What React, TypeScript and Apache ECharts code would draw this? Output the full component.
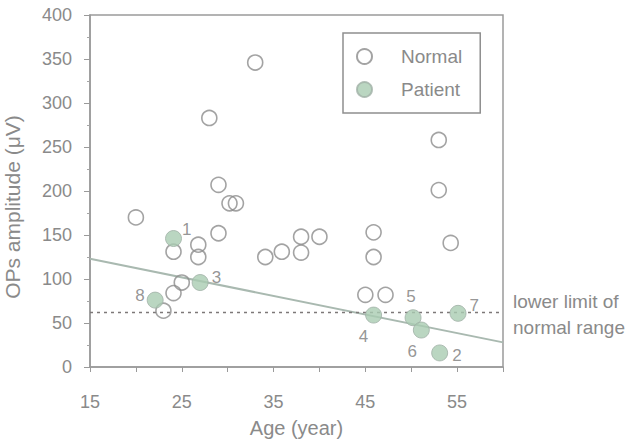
import React, { useEffect, useRef } from "react";
import * as echarts from "echarts";

// Normal subjects: [age (year), OPs amplitude (μV)]
const normalAge = [20, 33, 28, 29, 30.2, 30.9, 29, 24.1, 26.8, 26.8, 25, 24.1, 23, 34.1, 35.9, 38, 38, 40, 45.9, 45.9, 45, 47.2, 54.3, 53, 53];
const normalAmp = [170, 346, 283, 207, 186, 186, 152, 131, 139, 125, 96, 84, 64, 125, 131, 148, 130, 148, 153, 125, 82, 82, 141, 258, 201];

// Patients, numbered 1–8
const patientId = ["1", "2", "3", "4", "5", "6", "7", "8"];
const patientAge = [24.1, 53.1, 27, 45.9, 50.2, 51.1, 55.1, 22.1];
const patientAmp = [146, 16, 96, 59, 56, 42, 61, 76];

// Regression line end points and the lower limit of the normal range
const fitAge = [15, 60];
const fitAmp = [123, 28];
const lowerLimit = 62;

const xTickLabels = [15, 25, 35, 45, 55];

const GREY = "#8a8a8a";
const FONT = "'Liberation Sans', Arial, sans-serif";

// label placement per patient number
const labelPlace: Record<string, any> = {
  "1": { position: "right", offset: [-4, -9] },
  "2": { position: "right", offset: [0, 3] },
  "3": { position: "right", offset: [-1, -5] },
  "4": { position: "bottom", offset: [-10, 0] },
  "5": { position: "top", offset: [-2, 0] },
  "6": { position: "bottom", offset: [-9, 0] },
  "7": { position: "right", offset: [-1, -8] },
  "8": { position: "left", offset: [2, -5] },
};

export default function App() {
  const ref = useRef<HTMLDivElement>(null);

  useEffect(() => {
    if (!ref.current) return;
    const chart = echarts.init(ref.current, null, { renderer: "svg" });

    const normalData = normalAge.map((a, i) => [a, normalAmp[i]]);
    const patientData = patientAge.map((a, i) => ({
      value: [a, patientAmp[i]],
      name: patientId[i],
      label: {
        show: true,
        formatter: patientId[i],
        distance: 4,
        ...labelPlace[patientId[i]],
      },
    }));

    chart.setOption({
      animation: false,
      backgroundColor: "#fff",
      textStyle: { fontFamily: FONT, color: GREY },
      grid: {
        left: 90,
        top: 15,
        right: 126,
        bottom: 77,
        outerBoundsMode: "none",
        containLabel: false,
        show: true,
        borderColor: "#9a9a9a",
        borderWidth: 1.5,
      },
      legend: {
        orient: "vertical",
        left: 343,
        top: 33,
        itemWidth: 15,
        itemHeight: 15,
        itemGap: 14,
        padding: [14, 18, 14, 13],
        borderColor: "#8f8f8f",
        borderWidth: 1.5,
        textStyle: { fontSize: 19, color: GREY, fontFamily: FONT, padding: [0, 0, 0, 24] },
        data: [
          { name: "Normal", icon: "circle" },
          { name: "Patient", icon: "circle" },
        ],
      },
      xAxis: {
        type: "value",
        min: 15,
        max: 60,
        interval: 5,
        name: "Age (year)",
        nameLocation: "middle",
        nameGap: 51,
        nameTextStyle: { fontSize: 20, color: GREY, fontFamily: FONT },
        axisLine: { show: true, lineStyle: { color: "#9a9a9a", width: 1.5 } },
        axisTick: { show: true, inside: false, length: 5, lineStyle: { color: "#9a9a9a" } },
        axisLabel: {
          margin: 26,
          fontSize: 18,
          color: GREY,
          formatter: (v: number) => (xTickLabels.includes(v) ? String(v) : ""),
        },
        splitLine: { show: false },
      },
      yAxis: {
        type: "value",
        min: 0,
        max: 400,
        interval: 50,
        name: "OPs amplitude (μV)",
        nameLocation: "middle",
        nameGap: 67,
        nameTextStyle: { fontSize: 21, color: GREY, fontFamily: FONT, padding: [0, 32, 0, 0] },
        axisLine: { show: true, lineStyle: { color: "#9a9a9a", width: 1.5 } },
        axisTick: { show: true, inside: false, length: 6, lineStyle: { color: "#9a9a9a" } },
        minorTick: { show: true, splitNumber: 2, length: 3, lineStyle: { color: "#a5a5a5" } },
        axisLabel: { margin: 18, fontSize: 18, color: GREY },
        splitLine: { show: false },
      },
      series: [
        {
          name: "fit",
          type: "line",
          data: fitAge.map((a, i) => [a, fitAmp[i]]),
          symbol: "none",
          lineStyle: { color: "#a9b9b0", width: 2 },
          z: 1,
          silent: true,
        },
        {
          name: "lower limit",
          type: "line",
          data: [
            [fitAge[0], lowerLimit],
            [fitAge[1], lowerLimit],
          ],
          symbol: "none",
          lineStyle: { color: "#7d7878", width: 1.5, type: [3, 4] },
          z: 1,
          silent: true,
        },
        {
          name: "Normal",
          type: "scatter",
          data: normalData,
          symbol: "circle",
          symbolSize: 15,
          itemStyle: { color: "rgba(255,255,255,0)", borderColor: "#8c8c8c", borderWidth: 1.6 },
          z: 3,
        },
        {
          name: "Patient",
          type: "scatter",
          data: patientData,
          symbol: "circle",
          symbolSize: 16,
          itemStyle: { color: "#a9ccb2", borderColor: "#a0b0a6", borderWidth: 1 },
          label: { fontSize: 17, color: "#7a7a7a", fontFamily: FONT },
          z: 4,
        },
      ],
      graphic: [
        {
          type: "text",
          left: 513,
          top: 292,
          style: { text: "lower limit of", fontSize: 19, fill: GREY, fontFamily: FONT },
        },
        {
          type: "text",
          left: 513,
          top: 318,
          style: { text: "normal range", fontSize: 19, fill: GREY, fontFamily: FONT },
        },
      ],
    });

    return () => chart.dispose();
  }, []);

  return <div ref={ref} style={{ width: 629, height: 444, position: "absolute", left: 0, top: 0 }} />;
}
